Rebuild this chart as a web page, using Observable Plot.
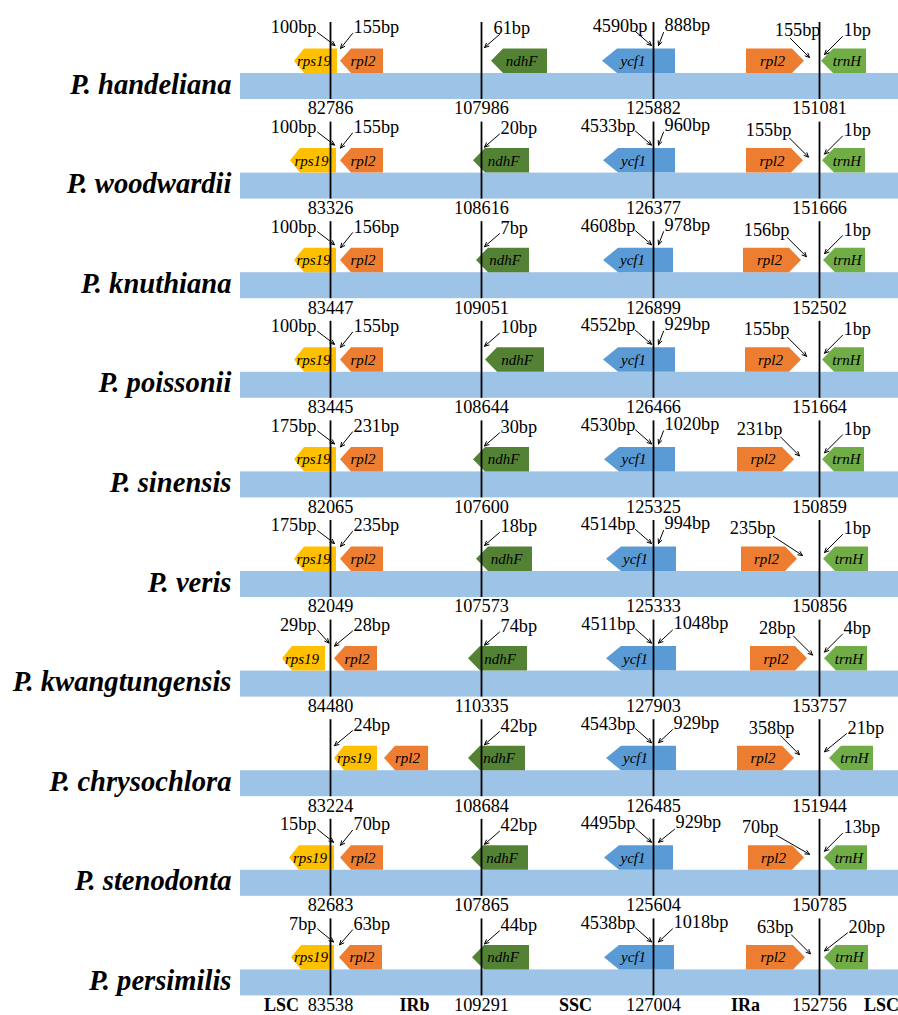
<!DOCTYPE html>
<html>
<head>
<meta charset="utf-8">
<script src="https://cdn.jsdelivr.net/npm/d3@7"></script>
<script src="https://cdn.jsdelivr.net/npm/@observablehq/plot@0.6"></script>
<style>
  html, body { margin: 0; padding: 0; background: #fff; }
  #chart svg { display: block; }
</style>
</head>
<body>
<div id="chart"></div>
<script>
// ---- Data -------------------------------------------------------------
const species = [
  "P. handeliana", "P. woodwardii", "P. knuthiana", "P. poissonii", "P. sinensis",
  "P. veris", "P. kwangtungensis", "P. chrysochlora", "P. stenodonta", "P. persimilis"
];

// Junction coordinates printed under each genome: LSC/IRb, IRb/SSC, SSC/IRa, IRa/LSC
const boundaryPos = [
  [82786, 107986, 125882, 151081],
  [83326, 108616, 126377, 151666],
  [83447, 109051, 126899, 152502],
  [83445, 108644, 126466, 151664],
  [82065, 107600, 125325, 150859],
  [82049, 107573, 125333, 150856],
  [84480, 110335, 127903, 153757],
  [83224, 108684, 126485, 151944],
  [82683, 107865, 125604, 150785],
  [83538, 109291, 127004, 152756]
];

// Distances (bp) annotated at each junction
const rps19Bp   = [100, 100, 100, 100, 175, 175, 29, null, 15, 7];
const rpl2bBp   = [155, 155, 156, 155, 231, 235, 28, 24, 70, 63];
const ndhFBp    = [61, 20, 7, 10, 30, 18, 74, 42, 42, 44];
const ycf1SscBp = [4590, 4533, 4608, 4552, 4530, 4514, 4511, 4543, 4495, 4538];
const ycf1IrBp  = [888, 960, 978, 929, 1020, 994, 1048, 929, 929, 1018];
const rpl2aBp   = [155, 155, 156, 155, 231, 235, 28, 358, 70, 63];
const trnHBp    = [1, 1, 1, 1, 1, 1, 4, 21, 13, 20];

// Schematic gene extents along the map (diagram units)
const rps19Span = [[294,337],[290,336],[294,336],[294,336],[294,336],[294,336],[282,325],[334,377],[289,334],[291,334]];
const rpl2bSpan = [[340,383],[340,383],[340,383],[340,383],[340,383],[340,383],[334,377],[384,428],[340,383],[339,382]];
const ndhFSpan  = [[491,547],[473,529],[476,529],[485,544],[473,529],[476,532],[468,527],[468,525],[471,528],[472,529]];
const ycf1Span  = [[602,675],[603,675],[603,673],[603,675],[604,675],[606,676],[606,676],[606,676],[604,673],[604,674]];
const rpl2aSpan = [[746,804],[746,803],[743,801],[745,801],[737,794],[741,797],[750,807],[737,794],[748,804],[746,805]];
const trnHSpan  = [[821,866],[822,865],[823,865],[822,864],[822,864],[823,868],[824,867],[829,873],[824,867],[824,868]];

// Schematic junction positions and genome bar extent (diagram units)
const junctionX  = [330, 481, 653, 819];
const genomeSpan = [240, 898];
const regionNames = ["LSC", "IRb", "SSC", "IRa", "LSC"];

// ---- Layout -----------------------------------------------------------
const W = 898, H = 1015;
const ROW_PX = 99.6;          // pixel pitch between genome rows
const TOP_PX = 73;            // top edge of the first genome bar
const px = v => v / ROW_PX;   // pixel offset -> row units
const BAR_H = 26, GENE_H = 24.5;
const regionLabelX = [281, 414, 575, 745, 881];

const serif = "'Liberation Serif', 'Times New Roman', Times, serif";
const colors = { rps19: "#FFC000", rpl2: "#ED7D31", ndhF: "#548235", ycf1: "#5B9BD5", trnH: "#70AD47" };

const geneTypes = [
  { name: "rps19", spans: rps19Span, dir: -1, tip: 10, dx: -2 },
  { name: "rpl2",  spans: rpl2bSpan, dir: -1, tip: 11, dx: 1 },
  { name: "ndhF",  spans: ndhFSpan,  dir: -1, tip: 12, dx: 2 },
  { name: "ycf1",  spans: ycf1Span,  dir: -1, tip: 15, dx: -6 },
  { name: "rpl2",  spans: rpl2aSpan, dir: 1,  tip: 12, dx: -3 },
  { name: "trnH",  spans: trnHSpan,  dir: -1, tip: 12, dx: 3 }
];

// Small per-label shifts (pixels) where an annotation sits off the usual spot
const textNudge  = { "0:j4L": 28, "5:j4L": -10, "8:j4L": -14, "7:j4L": 12, "0:j3L": 12, "0:j2R": -7,
                     "6:j3R": 9, "7:j3R": 9, "8:j3R": 11, "9:j3R": 9, "7:j4R": 4, "9:j4R": 5 };
const arrowNudge = { "5:j4L": -10, "8:j4L": -14, "6:j3R": 9, "7:j3R": 9, "8:j3R": 11, "9:j3R": 9, "7:j4R": 4, "9:j4R": 5 };

const rows = d3.range(species.length);

// Gene outlines (pentagons) as areas between x1 and x2
const outlines = [];
geneTypes.forEach((g, gi) => {
  rows.forEach(i => {
    const [a, b] = g.spans[i];
    const top = i - px(GENE_H), mid = i - px(GENE_H / 2), bot = i;
    const id = `${gi}-${i}`;
    if (g.dir < 0) {
      outlines.push({ id, gene: g.name, y: top, x1: a + g.tip, x2: b });
      outlines.push({ id, gene: g.name, y: mid, x1: a, x2: b });
      outlines.push({ id, gene: g.name, y: bot, x1: a + g.tip, x2: b });
    } else {
      outlines.push({ id, gene: g.name, y: top, x1: a, x2: b - g.tip });
      outlines.push({ id, gene: g.name, y: mid, x1: a, x2: b });
      outlines.push({ id, gene: g.name, y: bot, x1: a, x2: b - g.tip });
    }
  });
});

// Junction annotations: text + arrow
const labelsStart = [], labelsEnd = [], arrows = [];
function annotate(i, key, value, anchor, tx, ty, ax1, ay1, ax2, ay2) {
  if (value == null) return;
  const tn = textNudge[`${i}:${key}`] || 0, an = arrowNudge[`${i}:${key}`] || 0;
  (anchor === "start" ? labelsStart : labelsEnd).push({ x: tx + tn, y: i + px(ty), text: `${value}bp` });
  arrows.push({ x1: ax1 + an, y1: i + px(ay1), x2: ax2, y2: i + px(ay2) });
}
rows.forEach(i => {
  const [L1, L2, L3, L4] = junctionX;
  // LSC/IRb
  if (rps19Bp[i] != null) {
    const r = rps19Span[i][1];
    annotate(i, "j1L", rps19Bp[i], "end", L1 - 14, -46, L1 - 13, -41, (r + L1) / 2 + 1, -28);
  }
  const rightTip = d3.min([rps19Span[i][0], rpl2bSpan[i][0]].filter(v => v > L1));
  annotate(i, "j1R", rpl2bBp[i], "start", L1 + 23, -46, L1 + 22, -40, rightTip, -25);
  // IRb/SSC
  annotate(i, "j2R", ndhFBp[i], "start", L2 + 19, -45, L2 + 18, -39, L2 + 3, -26);
  // SSC/IRa
  annotate(i, "j3L", ycf1SscBp[i], "end", L3 - 18, -47, L3 - 18, -42, L3 - 2, -28);
  annotate(i, "j3R", ycf1IrBp[i], "start", L3 + 11, -48, L3 + 10, -41, L3 + 5, -28);
  // IRa/LSC
  const t = rpl2aSpan[i][1];
  annotate(i, "j4L", rpl2aBp[i], "end", t - 12, -43, t - 14, -35, t + 5, -16);
  annotate(i, "j4R", trnHBp[i], "start", L4 + 24, -43, L4 + 23, -37, L4 + 5, -19);
});

const junctionRules = rows.flatMap(i => junctionX.map(x => ({ x, y1: i - px(51), y2: i + px(BAR_H) })));
const junctionNums = rows.flatMap(i => junctionX.map((x, j) => ({ x, y: i + px(35), text: String(boundaryPos[i][j]) })));
const lastRow = rows[rows.length - 1];
const regionLabels = regionNames.map((name, k) => ({ x: regionLabelX[k], y: lastRow + px(35), text: name }));

// ---- Plot -------------------------------------------------------------
const marks = [
  // genome bars
  Plot.rect(rows, {
    x1: () => genomeSpan[0], x2: () => genomeSpan[1],
    y1: i => i, y2: i => i + px(BAR_H), fill: "#9DC3E6"
  }),
  // species names
  Plot.text(rows, {
    x: () => genomeSpan[0] - 9, y: i => i + px(11), text: i => species[i],
    textAnchor: "end", fontFamily: serif, fontSize: 28.6, fontWeight: "bold", fontStyle: "italic", fill: "black"
  })
];

// genes, one mark per gene group
geneTypes.forEach((g, gi) => {
  marks.push(Plot.areaX(outlines.filter(d => d.id.startsWith(`${gi}-`)), {
    y: "y", x1: "x1", x2: "x2", z: "id", fill: colors[g.name], curve: "linear"
  }));
  marks.push(Plot.text(rows, {
    x: i => (g.spans[i][0] + g.spans[i][1]) / 2, y: i => i - px(GENE_H / 2),
    text: () => g.name, dx: g.dx,
    fontFamily: serif, fontStyle: "italic", fontSize: 15, fill: "black"
  }));
});

marks.push(
  Plot.ruleX(junctionRules, { x: "x", y1: "y1", y2: "y2", stroke: "black", strokeWidth: 1.8 }),
  Plot.arrow(arrows, { x1: "x1", y1: "y1", x2: "x2", y2: "y2", stroke: "black", strokeWidth: 1, headLength: 7, headAngle: 50 }),
  Plot.text(labelsStart, { x: "x", y: "y", text: "text", textAnchor: "start", fontFamily: serif, fontSize: 18.3, fill: "black" }),
  Plot.text(labelsEnd, { x: "x", y: "y", text: "text", textAnchor: "end", fontFamily: serif, fontSize: 18.3, fill: "black" }),
  Plot.text(junctionNums, { x: "x", y: "y", text: "text", fontFamily: serif, fontSize: 18.3, fill: "black" }),
  Plot.text(regionLabels, { x: "x", y: "y", text: "text", fontFamily: serif, fontSize: 18, fontWeight: "bold", fill: "black" })
);

const chart = Plot.plot({
  width: W,
  height: H,
  margin: 0,
  x: { domain: [0, W], range: [0, W], axis: null },
  y: { domain: [-TOP_PX / ROW_PX, (H - TOP_PX) / ROW_PX], range: [0, H], axis: null },
  style: { background: "#fff" },
  marks
});
document.getElementById("chart").appendChild(chart);
</script>
</body>
</html>
